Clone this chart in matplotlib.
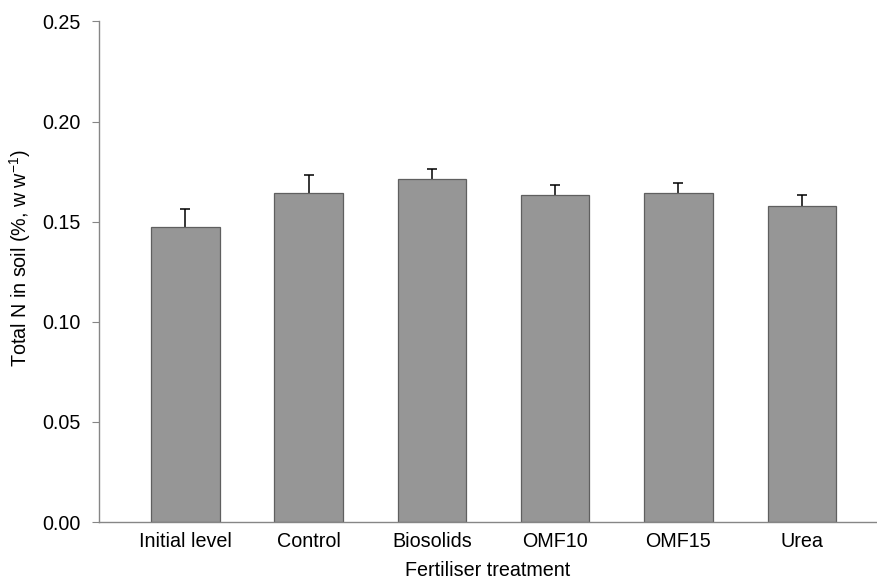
import matplotlib
matplotlib.use('Agg')
import matplotlib.pyplot as plt

plt.rcParams['font.family'] = ['Liberation Sans', 'DejaVu Sans']
plt.rcParams['mathtext.fontset'] = 'custom'
plt.rcParams['mathtext.rm'] = 'Liberation Sans'
plt.rcParams['mathtext.it'] = 'Liberation Sans'

# Data
treatments = ['Initial level', 'Control', 'Biosolids', 'OMF10', 'OMF15', 'Urea']
total_n = [0.1475, 0.1645, 0.1712, 0.1632, 0.1642, 0.1580]
std_err = [0.0090, 0.0088, 0.0052, 0.0052, 0.0052, 0.0053]
y_ticks = [0.00, 0.05, 0.10, 0.15, 0.20, 0.25]

fig = plt.figure(figsize=(8.78, 5.80), dpi=100)
ax = fig.add_axes([0.1128, 0.1, 0.886, 0.863])

x = list(range(len(treatments)))
# symmetric error bars drawn behind the bars, so only the upper half shows
ax.errorbar(x, total_n, yerr=std_err, fmt='none', ecolor='black',
            elinewidth=1.1, capsize=3.5, capthick=1.1, zorder=1)
ax.bar(x, total_n, width=0.555, color='#969696', edgecolor='#5f5f5f',
       linewidth=0.9, zorder=2)

ax.set_xlim(-0.70, 5.61)
ax.set_ylim(0, 0.25)
ax.set_yticks(y_ticks)
ax.set_yticklabels([f'{t:.2f}' for t in y_ticks])
ax.set_xticks(x)
ax.set_xticklabels(treatments)

for side in ('top', 'right'):
    ax.spines[side].set_visible(False)
for side in ('left', 'bottom'):
    ax.spines[side].set_color('#868686')
    ax.spines[side].set_linewidth(1.0)

ax.tick_params(axis='y', length=5, color='#868686', labelsize=14.2, pad=8.5)
ax.tick_params(axis='x', length=0, labelsize=14.2, pad=7.5)

ax.set_xlabel('Fertiliser treatment', fontsize=14.2, labelpad=7)
ax.set_ylabel('Total N in soil (%, w w$^{-1}$)', fontsize=14.2)
ax.yaxis.set_label_coords(-0.085, 0.527)

plt.savefig('out.png', dpi=100)
plt.close()
